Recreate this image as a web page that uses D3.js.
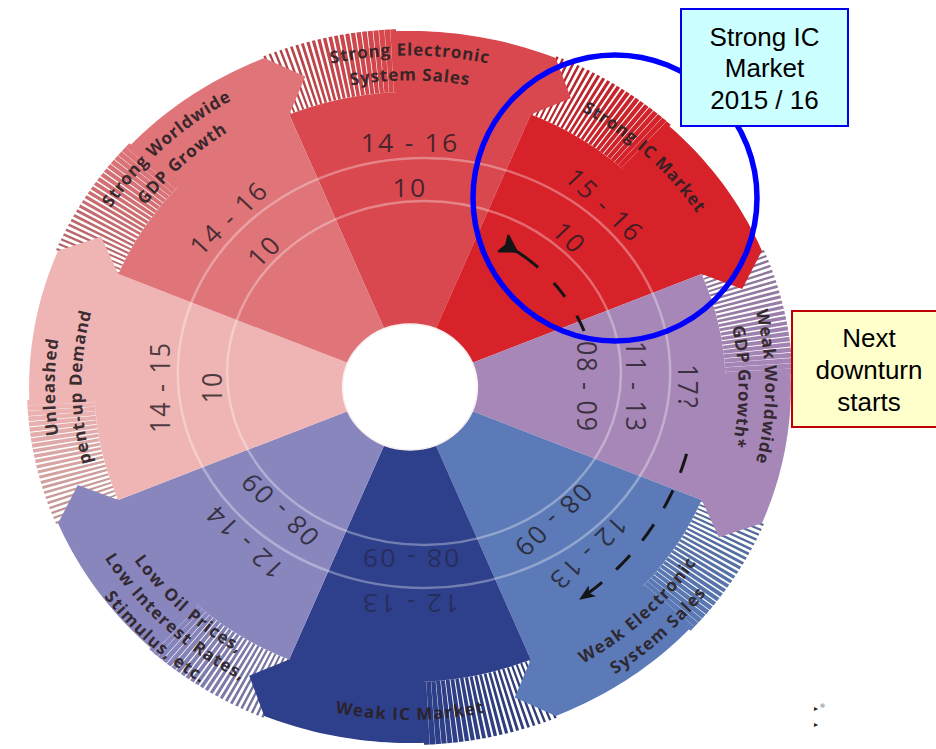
<!DOCTYPE html>
<html>
<head>
<meta charset="utf-8">
<script src="https://cdnjs.cloudflare.com/ajax/libs/d3/7.8.5/d3.min.js"></script>
<style>
  html, body { margin: 0; padding: 0; background: #ffffff; }
  svg { display: block; }
</style>
</head>
<body>
<svg id="chart" width="936" height="749"></svg>
<script>
// Phases of the IC business cycle, clockwise from the top
const categories = [
  "Strong Electronic System Sales",
  "Strong IC Market",
  "Weak Worldwide GDP Growth*",
  "Weak Electronic System Sales",
  "Weak IC Market",
  "Low Oil Prices, Low Interest Rates, Stimulus, etc.",
  "Unleashed Pent-up Demand",
  "Strong Worldwide GDP Growth"
];
const categoryLines = [
  ["Strong Electronic", "System Sales"],
  ["Strong IC Market"],
  ["Weak Worldwide", "GDP Growth*"],
  ["Weak Electronic", "System Sales"],
  ["Weak IC Market"],
  ["Low Oil Prices,", "Low Interest Rates,", "Stimulus, etc."],
  ["Unleashed", "pent-up Demand"],
  ["Strong Worldwide", "GDP Growth"]
];
const sectorColors = ["#d9484e", "#d8222a", "#a787b8", "#5b7ab7", "#2e3f8b", "#8986be", "#efb5b4", "#df7479"];

// Years of each phase, from the innermost ring outwards
const coreYears  = ["", "", "08 - 09", "", "", "", "", ""];
const innerYears = ["10", "10", "11 - 13", "08 - 09", "08 - 09", "08 - 09", "10", "10"];
const outerYears = ["14 - 16", "15 - 16", "17?", "12 - 13", "12 - 13", "12 - 14", "14 - 15", "14 - 16"];

const calloutIC = ["Strong IC", "Market", "2015 / 16"];
const calloutDownturn = ["Next", "downturn", "starts"];

const svg = d3.select("#chart");

// ---- geometry -------------------------------------------------------
const cx = 410, cy = 387, sx = 1.07;              // wheel centre, horizontal stretch
const ringCx = 424, ringCy = 373, ringSx = 1.145; // year rings
const rHole = 63, R1 = 295, R2 = 356, Rm = (R1 + R2) / 2;
const half = 180 / categories.length;
const hatchSpan = 20, tipSpan = 5;

// sector centre angle, degrees clockwise from 12 o'clock
const angle = d3.scalePoint().domain(categories).range([0, 315]);
// radius of each year ring band
const yearRadius = d3.scaleOrdinal().domain(["core", "inner", "outer"]).range([143, 186, 231]);
const ringRadii = [172, 215];

const rad = d => d * Math.PI / 180;
const proj = (deg, r) => [cx + sx * r * Math.sin(rad(deg)), cy - r * Math.cos(rad(deg))];
function arcPts(d0, d1, r0, r1) {
  const n = Math.max(2, Math.ceil(Math.abs(d1 - d0) / 1));
  const out = [];
  for (let k = 0; k <= n; k++) {
    const f = k / n;
    out.push(proj(d0 + (d1 - d0) * f, r0 + ((r1 === undefined ? r0 : r1) - r0) * f));
  }
  return out;
}
// point along the ray from the wheel centre that lies on a year ring
function onRing(deg, rho) {
  const dx = sx * Math.sin(rad(deg)), dy = -Math.cos(rad(deg));
  const ox = (cx - ringCx) / ringSx, oy = cy - ringCy;
  const ex = dx / ringSx, ey = dy;
  const A = ex * ex + ey * ey, B = 2 * (ox * ex + oy * ey), C = ox * ox + oy * oy - rho * rho;
  const t = (-B + Math.sqrt(B * B - 4 * A * C)) / (2 * A);
  return [cx + t * dx, cy + t * dy];
}
const line = d3.line();
const poly = pts => line(pts) + "Z";

const sectors = categories.map((c, i) => ({
  name: c, i, a: angle(c), color: sectorColors[i],
  lines: categoryLines[i], core: coreYears[i], inner: innerYears[i], outer: outerYears[i]
}));

// ---- hatched tails (drawn first, under the neighbour's arrow tip) ----
const gHatch = svg.append("g");
sectors.forEach(s => {
  const t0 = s.a - half;
  const g = gHatch.append("g");
  g.append("path")
    .attr("d", poly(arcPts(t0, t0 + hatchSpan, R1).concat(arcPts(t0 + hatchSpan, t0, R2 + 2))))
    .attr("fill", "#ffffff");
  const step = 0.85, n = Math.round(hatchSpan / step);
  const dark = d3.interpolateRgb(s.color, "#3a3a3a")(0.3);
  d3.range(n).forEach(k => {
    const t = k / (n - 1);
    const w = step * (0.38 + 0.62 * Math.pow(t, 1.4));
    const a0 = t0 + k * step, a1 = a0 + Math.min(step, w + 0.02);
    g.append("path")
      .attr("d", poly(arcPts(a0, a1, R1).concat(arcPts(a1, a0, R2 + 2))))
      .attr("fill", d3.interpolateRgb(dark, s.color)(Math.pow(t, 0.8)));
  });
});

// ---- solid sectors with arrow-tipped outer bands ---------------------
svg.append("g").selectAll("path").data(sectors).join("path")
  .attr("d", s => {
    const t0 = s.a - half, t1 = s.a + half;
    const pts = [[cx, cy]]
      .concat(arcPts(t0, t0 + hatchSpan, R1))
      .concat(arcPts(t0 + hatchSpan, t1, R2))
      .concat([proj(t1 + tipSpan, Rm), proj(t1, R1)]);
    return poly(pts);
  })
  .attr("fill", s => s.color);

// ---- year rings ------------------------------------------------------
svg.append("g").selectAll("ellipse").data(ringRadii).join("ellipse")
  .attr("cx", ringCx).attr("cy", ringCy)
  .attr("rx", r => r * ringSx).attr("ry", r => r)
  .attr("fill", "none").attr("stroke", "#ffffff")
  .attr("stroke-opacity", 0.33).attr("stroke-width", 2.5);

// ---- centre hole -----------------------------------------------------
svg.append("ellipse")
  .attr("cx", cx).attr("cy", cy).attr("rx", rHole * sx).attr("ry", rHole)
  .attr("fill", "#ffffff").attr("stroke", "#fbeeee").attr("stroke-width", 1.5);

// ---- year labels -----------------------------------------------------
const yearItems = [];
sectors.forEach(s => {
  ["core", "inner", "outer"].forEach(level => {
    if (s[level]) yearItems.push({ s, level, text: s[level] });
  });
});
const lightness = c => d3.hcl(c).l;
svg.append("g").selectAll("text").data(yearItems).join("text")
  .attr("transform", d => {
    const p = onRing(d.s.a, yearRadius(d.level));
    return `translate(${p[0]},${p[1]}) scale(${sx},1) rotate(${d.s.a})`;
  })
  .attr("text-anchor", "middle")
  .attr("dominant-baseline", "central")
  .attr("font-family", "'Open Sans', sans-serif")
  .attr("font-size", 25)
  .attr("letter-spacing", 2)
  .attr("fill", "#1f1a22")
  // dark print on the darkest sector stays faint
  .attr("fill-opacity", d => lightness(d.s.color) < 35 ? 0.45 : 0.8)
  .text(d => d.text);

// ---- phase names along the outer band --------------------------------
const defs = svg.append("defs");
const gNames = svg.append("g");
sectors.forEach(s => {
  const flip = s.a > 90 && s.a < 270;
  const n = s.lines.length;
  const sp = n === 3 ? 22 : 25;
  const rc = 326;
  const text = gNames.append("text")
    .attr("font-family", "'Open Sans', sans-serif")
    .attr("font-weight", 700)
    .attr("font-size", 17)
    .attr("letter-spacing", 1)
    .attr("fill", "#2a2024")
    .attr("fill-opacity", 0.92)
    .attr("dominant-baseline", "central");
  s.lines.forEach((txt, j) => {
    const r = flip ? rc - (n - 1) / 2 * sp + j * sp : rc + (n - 1) / 2 * sp - j * sp;
    const id = `name-${s.i}-${j}`;
    const pts = flip ? arcPts(s.a + 60, s.a - 60, r) : arcPts(s.a - 60, s.a + 60, r);
    defs.append("path").attr("id", id).attr("d", line(pts));
    text.append("textPath")
      .attr("href", `#${id}`)
      .attr("startOffset", "50%")
      .attr("text-anchor", "middle")
      .text(txt);
  });
});

// ---- cycle arrow -------------------------------------------------------
const gArrow = svg.append("g").attr("fill", "none").attr("stroke", "#151515")
  .attr("stroke-width", 3);
const headStart = arcPts(34, 71, 168, 172);
gArrow.append("path").attr("d", line(headStart))
  .attr("stroke-dasharray", "34 22 18 22 18 22");
const tailEnd = arcPts(104.5, 141.5, 267, 265);
gArrow.append("path").attr("d", line(tailEnd))
  .attr("stroke-dasharray", "20 19 20 19 20 19 20 19 60");

// fletching at the start of the arrow
(function () {
  const p = headStart[0], q = headStart[3];
  let ux = q[0] - p[0], uy = q[1] - p[1];
  const L = Math.hypot(ux, uy); ux /= L; uy /= L;
  const px = -uy, py = ux;
  const pts = [
    [p[0] + ux * 7, p[1] + uy * 7],
    [p[0] - ux * 8 + px * 9, p[1] - uy * 8 + py * 9],
    [p[0] - ux * 5, p[1] - uy * 5],
    [p[0] - ux * 8 - px * 9, p[1] - uy * 8 - py * 9]
  ];
  svg.append("path").attr("d", poly(pts)).attr("fill", "#151515")
    .attr("stroke", "#151515").attr("stroke-width", 2.5).attr("stroke-linejoin", "round");
})();
// arrowhead at the end
(function () {
  const tip = proj(143.4, 265), back = proj(140.5, 265.5);
  let ux = tip[0] - back[0], uy = tip[1] - back[1];
  const L = Math.hypot(ux, uy); ux /= L; uy /= L;
  const px = -uy, py = ux;
  const pts = [
    tip,
    [tip[0] - ux * 16 + px * 6.5, tip[1] - uy * 16 + py * 6.5],
    [tip[0] - ux * 12, tip[1] - uy * 12],
    [tip[0] - ux * 16 - px * 6.5, tip[1] - uy * 16 - py * 6.5]
  ];
  svg.append("path").attr("d", poly(pts)).attr("fill", "#151515");
})();

// ---- highlight ring and callouts --------------------------------------
svg.append("ellipse")
  .attr("cx", 615).attr("cy", 198).attr("rx", 142).attr("ry", 143)
  .attr("fill", "none").attr("stroke", "#0000ff").attr("stroke-width", 5.5);

function callout(x, y, w, h, fill, stroke, lines, textX, baselines) {
  const g = svg.append("g");
  g.append("rect").attr("x", x).attr("y", y).attr("width", w).attr("height", h)
    .attr("fill", fill).attr("stroke", stroke).attr("stroke-width", 2);
  g.selectAll("text").data(lines).join("text")
    .attr("x", textX).attr("y", (d, i) => baselines[i])
    .attr("text-anchor", "middle")
    .attr("font-family", "'Liberation Sans', Arial, sans-serif")
    .attr("font-size", 26)
    .attr("fill", "#000000")
    .text(d => d);
}
callout(681, 9, 167, 117, "#ccffff", "#0000ee", calloutIC, 764.5, [45.5, 77, 108.5]);
callout(792, 311, 156, 116, "#ffffcc", "#c00000", calloutDownturn, 869, [347, 379, 411]);

// small footnote markers
svg.append("text").attr("x", 814).attr("y", 711).attr("font-size", 8)
  .attr("font-family", "'DejaVu Sans', sans-serif").attr("fill", "#222").text("▸");
svg.append("text").attr("x", 819.5).attr("y", 708).attr("font-size", 6)
  .attr("font-family", "'DejaVu Sans', sans-serif").attr("fill", "#555").text("®");
svg.append("text").attr("x", 814).attr("y", 727).attr("font-size", 8)
  .attr("font-family", "'DejaVu Sans', sans-serif").attr("fill", "#222").text("▸");
</script>
</body>
</html>
